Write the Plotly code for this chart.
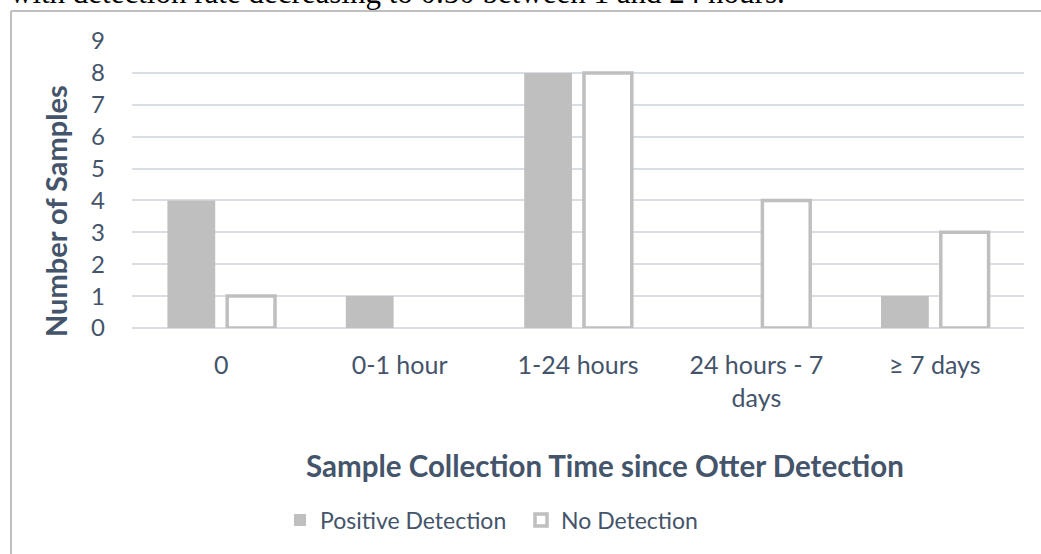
import plotly.graph_objects as go

categories = ["0", "0-1 hour", "1-24 hours", "24 hours - 7<br>days", "≥ 7 days"]
positive = [4, 1, 8, 0, 1]
no_detection = [1, 0, 8, 4, 3]
y_ticks = list(range(0, 10))

W, H = 1041, 554
L, R, T, B = 132, 17, 41, 226
pw, ph = W - L - R, H - T - B

def px_x(x):
    return (x - L) / pw

def px_y(y):
    return (H - B - y) / ph

text_col = "#44546A"
grey = "#BFBFBF"
font = "Lato"

fig = go.Figure()
fig.add_trace(go.Bar(x=categories, y=positive, name="Positive Detection",
                     marker=dict(color=grey, line=dict(width=0))))
fig.add_trace(go.Bar(x=categories, y=no_detection, name="No Detection",
                     marker=dict(color="white",
                                 line=dict(color=grey,
                                           width=[3.5 if v > 0 else 0 for v in no_detection]))))

fig.update_layout(
    width=W, height=H,
    margin=dict(l=L, r=R, t=T, b=B, autoexpand=False),
    paper_bgcolor="white", plot_bgcolor="white",
    barmode="group", bargap=0.33, bargroupgap=0.2,
    font=dict(family=font, color=text_col, size=25),
    xaxis=dict(showgrid=False, showline=False, ticks="", ticklabelstandoff=20,
               tickfont=dict(size=25, color=text_col)),
    yaxis=dict(range=[0, 9], tickvals=y_ticks, showgrid=True, gridcolor="#D9DDE4",
               gridwidth=2, zeroline=True, zerolinecolor="#D9DDE4", zerolinewidth=2,
               showline=False, ticks="", ticklabelstandoff=26,
               tickfont=dict(size=24, color=text_col)),
    legend=dict(orientation="h", x=px_x(280), xanchor="left", y=px_y(520), yanchor="middle",
                font=dict(size=23, color=text_col), itemwidth=30, traceorder="normal",
                entrywidth=196, entrywidthmode="pixels"),
    showlegend=True,
)

# axis titles (positioned as in the original Excel chart)
fig.add_annotation(text="<b>Sample Collection Time since Otter Detection</b>",
                   xref="paper", yref="paper", x=px_x(605), y=px_y(465),
                   xanchor="center", yanchor="middle", showarrow=False,
                   font=dict(size=29.5, color=text_col))
fig.add_annotation(text="<b>Number of Samples</b>", textangle=-90,
                   xref="paper", yref="paper", x=px_x(55), y=px_y(211),
                   xanchor="center", yanchor="middle", showarrow=False,
                   font=dict(size=29, color=text_col))

# page border (document frame)
fig.add_shape(type="line", xref="paper", yref="paper",
              x0=px_x(11), x1=px_x(W + 5), y0=px_y(11), y1=px_y(11),
              line=dict(color="#BFBFBF", width=2))
fig.add_shape(type="line", xref="paper", yref="paper",
              x0=px_x(11), x1=px_x(11), y0=px_y(11), y1=px_y(H + 5),
              line=dict(color="#BFBFBF", width=2))

# cut-off paragraph text above the chart
fig.add_annotation(text="with detection rate decreasing to 0.50 between 1 and 24 hours.",
                   xref="paper", yref="paper", x=px_x(8), y=px_y(-8), xanchor="left",
                   yanchor="middle", showarrow=False,
                   font=dict(family="Liberation Serif", size=31, color="black"))

fig.write_html("out.html", config={"displayModeBar": False},
               post_script="document.body.style.margin='0';document.body.style.overflow='hidden';")
